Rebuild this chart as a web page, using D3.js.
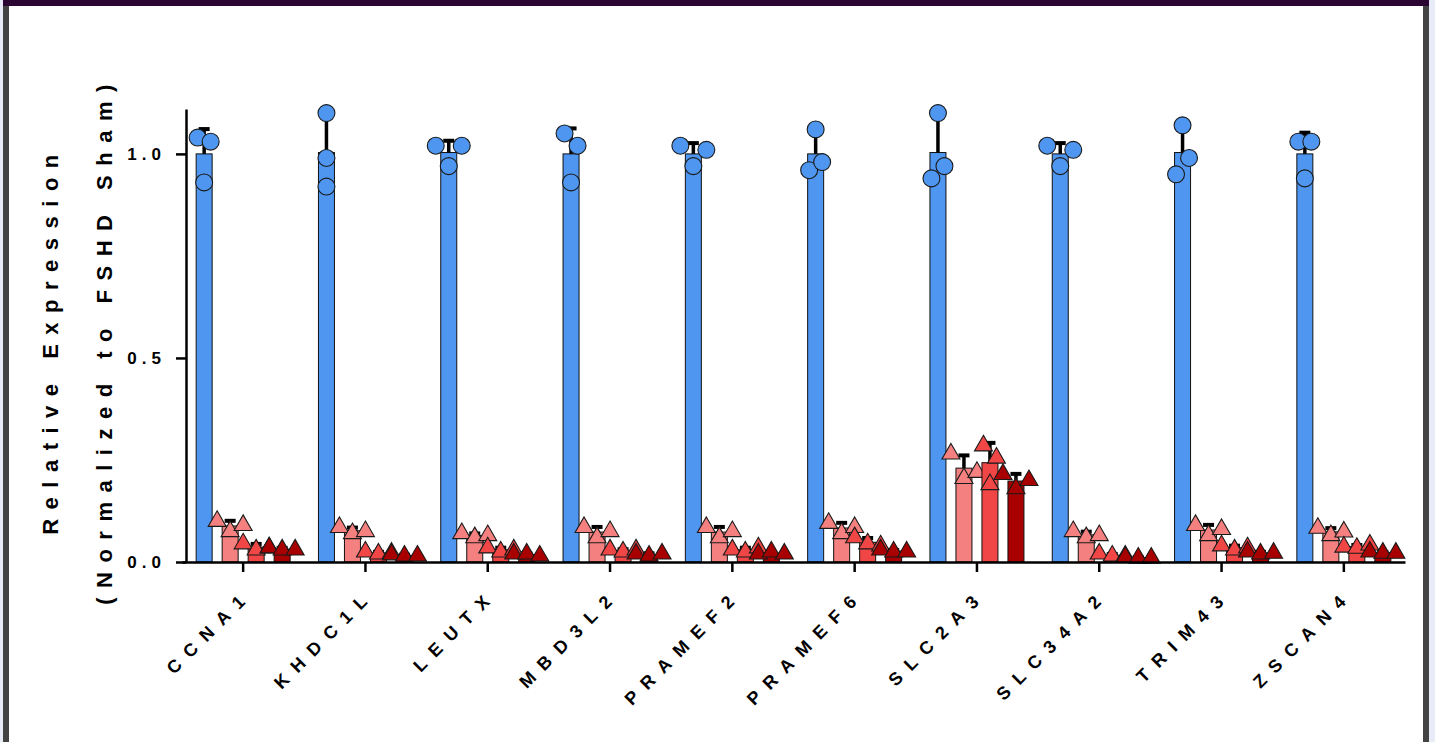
<!DOCTYPE html>
<html><head><meta charset="utf-8">
<script src="https://cdn.jsdelivr.net/npm/d3@7"></script>
<style>
body{margin:0;background:#e9ecf8;overflow:hidden}
svg{display:block}
text{font-family:"Liberation Sans",Arial,sans-serif}
</style>
</head><body>
<svg id="c" width="1435" height="742"></svg>
<script>
// ---------- data ----------
const genes = ["CCNA1","KHDC1L","LEUTX","MBD3L2","PRAMEF2","PRAMEF6","SLC2A3","SLC34A2","TRIM43","ZSCAN4"];
const seriesNames = ["FSHD Sham","Treatment 1","Treatment 2","Treatment 3"];
const shamVals = [
  [1.04,0.93,1.03],[1.10,0.99,0.92],[1.02,0.97,1.02],[1.05,0.93,1.02],[1.02,0.97,1.01],
  [0.96,1.06,0.98],[0.94,1.10,0.97],[1.02,0.97,1.01],[0.95,1.07,0.99],[1.03,0.94,1.03]];
const treat1Vals = [
  [0.10,0.075,0.09],[0.085,0.07,0.075],[0.07,0.06,0.065],[0.085,0.06,0.075],[0.085,0.06,0.075],
  [0.095,0.07,0.085],[0.265,0.205,0.22],[0.075,0.06,0.065],[0.09,0.065,0.08],[0.083,0.065,0.074]];
const treat2Vals = [
  [0.045,0.03,0.035],[0.025,0.02,0.022],[0.035,0.025,0.03],[0.03,0.025,0.03],[0.03,0.025,0.035],
  [0.06,0.045,0.04],[0.285,0.19,0.255],[0.02,0.015,0.015],[0.04,0.03,0.035],[0.037,0.034,0.042]];
const treat3Vals = [
  [0.035,0.03,0.03],[0.018,0.015,0.015],[0.02,0.02,0.015],[0.02,0.015,0.02],[0.02,0.025,0.02],
  [0.03,0.025,0.025],[0.215,0.18,0.20],[0.012,0.01,0.01],[0.025,0.02,0.022],[0.025,0.022,0.022]];
const yTickVals = [0, 0.5, 1.0];
const yLabelLines = ["Relative Expression","(Normalized to FSHD Sham)"];

const allSeries = [shamVals, treat1Vals, treat2Vals, treat3Vals];
const colors = ["#4f96f0","#f48080","#f04646","#a80000"];
const shapes = ["circle","triangle","triangle","triangle"];

// ---------- frame ----------
const svg = d3.select("#c");
svg.append("rect").attr("x",0).attr("y",0).attr("width",1435).attr("height",742).attr("fill","#e9ecf8");
svg.append("rect").attr("x",9).attr("y",5).attr("width",1414).attr("height",737).attr("fill","#fff");
svg.append("rect").attr("x",3).attr("y",0).attr("width",6).attr("height",742).attr("fill","#434343");
svg.append("rect").attr("x",1423).attr("y",0).attr("width",6).attr("height",742).attr("fill","#434343");
svg.append("rect").attr("x",3).attr("y",0).attr("width",1426).attr("height",6).attr("fill","#2b0531");

// ---------- scales ----------
const x = d3.scaleBand().domain(genes).range([182,1405]).padding(0);
const xs = d3.scalePoint().domain(seriesNames).range([-39,39]);
const y = d3.scaleLinear().domain([0,1.11]).range([562,109]);
const barW = 16;

const g = svg.append("g");

// ---------- bars / errors / points ----------
function layout(vals, threshPx, step){
  const items = vals.map((v,i)=>({v,i,py:y(v)}));
  const sorted = items.slice().sort((a,b)=>a.py-b.py);
  const clusters = [];
  sorted.forEach(it=>{
    const last = clusters[clusters.length-1];
    if(last && Math.abs(it.py - last[last.length-1].py) < threshPx) last.push(it);
    else clusters.push([it]);
  });
  clusters.forEach(c=>{
    c.sort((a,b)=>a.i-b.i);
    c.forEach((it,k)=>{ it.dx = (k-(c.length-1)/2)*step; });
  });
  return items;
}

genes.forEach((gene,gi)=>{
  const cx0 = x(gene) + x.bandwidth()/2;
  allSeries.forEach((ser,si)=>{
    const vals = ser[gi];
    const m = d3.mean(vals), sd = d3.deviation(vals);
    const cx = cx0 + xs(seriesNames[si]);
    g.append("rect").attr("x",cx-barW/2).attr("y",y(m)).attr("width",barW).attr("height",y(0)-y(m))
      .attr("fill",colors[si]).attr("stroke","#111").attr("stroke-width",1);
    g.append("line").attr("x1",cx).attr("x2",cx).attr("y1",y(m)).attr("y2",y(m+sd))
      .attr("stroke","#000").attr("stroke-width",3.5);
    g.append("line").attr("x1",cx-5.5).attr("x2",cx+5.5).attr("y1",y(m+sd)).attr("y2",y(m+sd))
      .attr("stroke","#000").attr("stroke-width",4);
    const isCircle = shapes[si]==="circle";
    const pts = layout(vals, isCircle?22:20, 13);
    const sym = d3.symbol().type(isCircle?d3.symbolCircle:d3.symbolTriangle).size(isCircle?225:140);
    pts.forEach(p=>{
      g.append("path").attr("d",sym())
        .attr("transform",`translate(${cx+p.dx},${p.py})`)
        .attr("fill",colors[si]).attr("stroke","#1a1a1a").attr("stroke-width",1.1);
    });
  });
});

// ---------- axes ----------
const yAxis = svg.append("g").attr("transform","translate(186,0)")
  .call(d3.axisLeft(y).tickValues(yTickVals).tickFormat(d3.format(".1f")).tickSize(10).tickSizeOuter(0).tickPadding(10));
yAxis.select(".domain").attr("stroke","#000").attr("stroke-width",2.5);
yAxis.selectAll(".tick line").attr("stroke","#000").attr("stroke-width",2.5);
yAxis.selectAll(".tick text").attr("fill","#000").style("font-size","17px").style("font-weight","bold").style("letter-spacing","5px");

const xAxis = svg.append("g").attr("transform","translate(0,562)")
  .call(d3.axisBottom(x).tickSize(10).tickSizeOuter(0));
xAxis.select(".domain").attr("stroke","#000").attr("stroke-width",2.5);
xAxis.selectAll(".tick line").attr("stroke","#000").attr("stroke-width",2.5);
xAxis.selectAll(".tick text").attr("fill","#000")
  .style("font-size","18px").style("font-weight","bold").style("letter-spacing","10px")
  .attr("text-anchor","end").attr("y",0).attr("dy",0)
  .attr("transform","translate(10,34) rotate(-45)");

// ---------- y label ----------
const yl = svg.append("text").attr("transform","translate(58,340) rotate(-90)")
  .attr("text-anchor","middle").style("font-size","22px").style("font-weight","bold").style("letter-spacing","9.5px").attr("fill","#000");
yl.append("tspan").attr("x",0).attr("dy",0).text(yLabelLines[0]);
yl.append("tspan").attr("x",0).attr("dy","2.45em").text(yLabelLines[1]);
</script>
</body></html>
